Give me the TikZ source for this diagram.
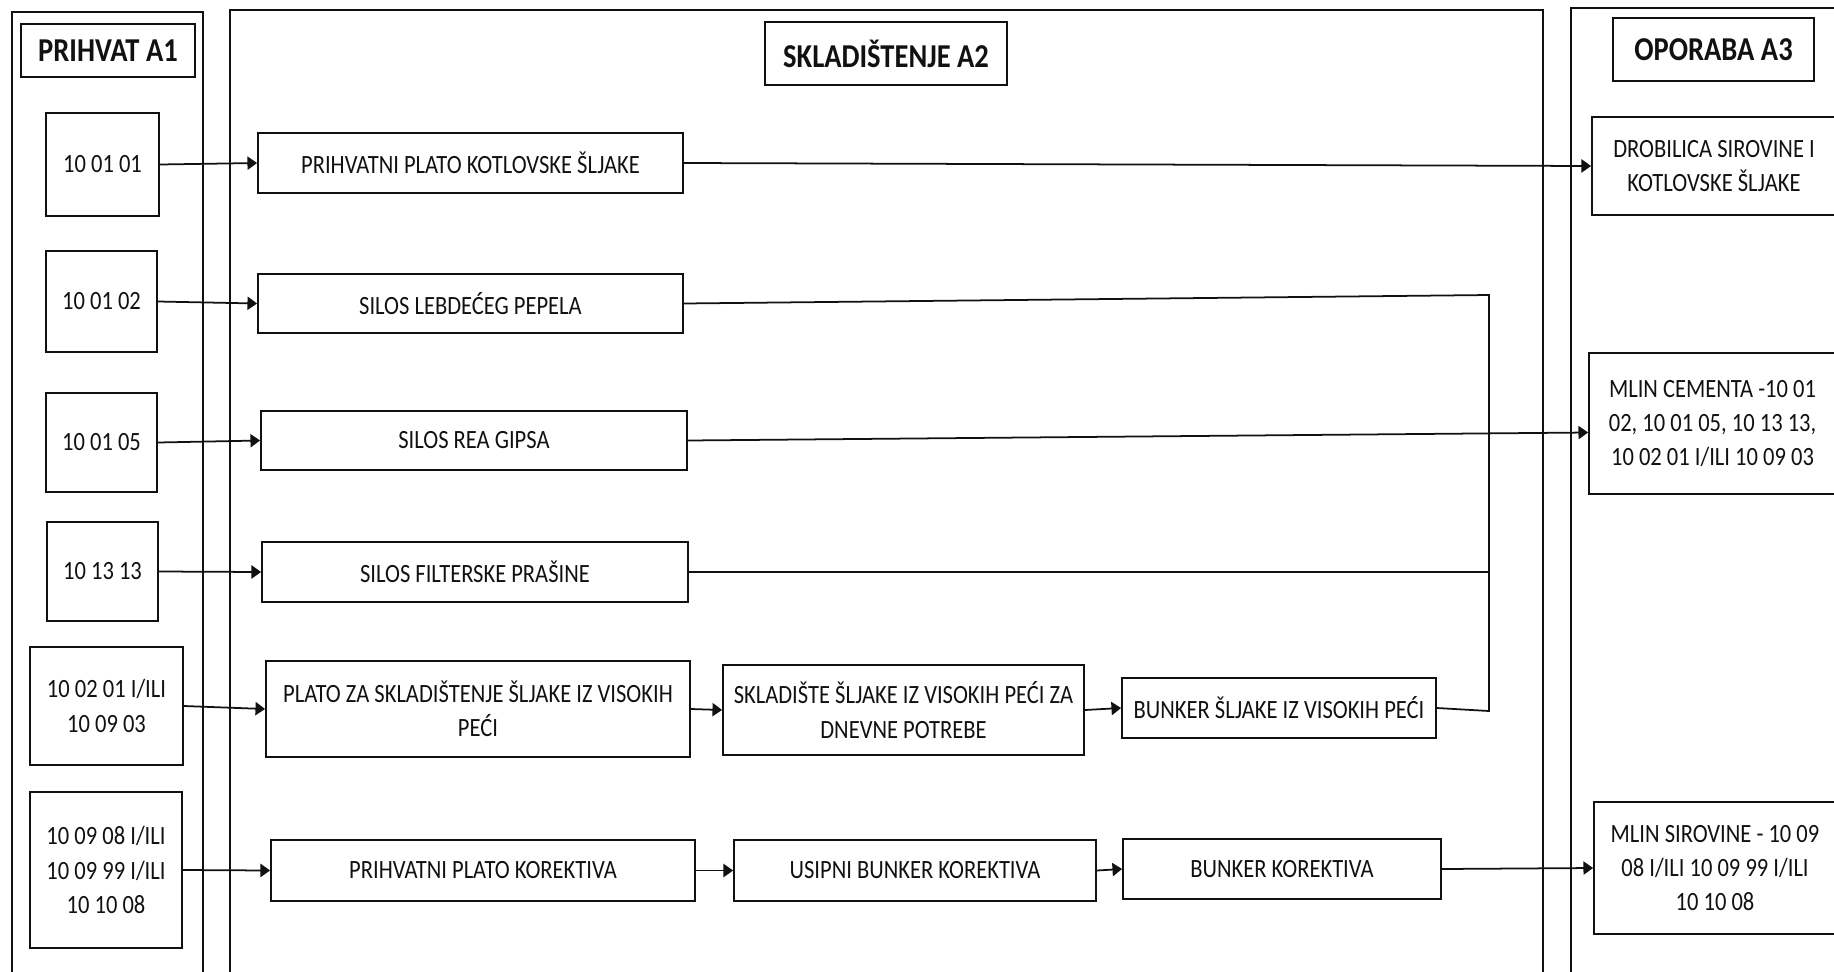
\documentclass[tikz,border=0pt]{standalone}
\usepackage{fontspec}
\setmainfont{Carlito}[FakeStretch=0.855]
\usepackage{xcolor}
\usetikzlibrary{arrows.meta}
\definecolor{ink}{HTML}{111111}

\begin{document}
\begin{tikzpicture}[
  x=0.2mm, y=-0.2mm,
  every node/.style={font=\fontsize{15}{19.5}\selectfont, text=ink},
  frame/.style={draw=ink, line width=1pt},
  head/.style={
    rectangle, draw=ink, line width=1pt,
    font=\fontsize{19}{23}\selectfont\bfseries, inner sep=2pt
  },
  codebox/.style={
    rectangle, draw=ink, line width=1pt, align=center, inner sep=2pt
  },
  stagebox/.style={
    rectangle, draw=ink, line width=1pt, align=center, inner sep=2pt,
    minimum height=1.2cm
  },
  arr/.style={-{Triangle[length=5.5pt,width=7.5pt]}, line width=1pt, draw=ink},
  line/.style={line width=1pt, draw=ink}
]
\useasboundingbox (0,0) rectangle (1834,971);
\clip (0,0) rectangle (1834,971);

% --- COLUMN FRAMES ---
\draw[frame] (12,990) |- (203,12) -- (203,990);
\draw[frame] (230,990) |- (1543,10) -- (1543,990);
\draw[frame] (1571,990) |- (1850,8);

% --- HEADERS ---
\node[head, minimum width=3.48cm, minimum height=1.06cm] (hdrA) at (108,50.5) {PRIHVAT A1};
\node[head, minimum width=4.84cm, minimum height=1.26cm] (hdrB) at (886,53.5) {SKLADIŠTENJE A2};
\node[head, minimum width=4.02cm, minimum height=1.26cm] (hdrC) at (1713.5,49.5) {OPORABA A3};

% --- PRIHVAT A1: waste codes ---
\node[codebox, minimum width=2.26cm, minimum height=2.06cm] (kod1) at (102.5,164.5) {10 01 01};
\node[codebox, minimum width=2.22cm, minimum height=2.02cm] (kod2) at (101.5,301.5) {10 01 02};
\node[codebox, minimum width=2.22cm, minimum height=1.98cm] (kod3) at (101.5,442.5) {10 01 05};
\node[codebox, minimum width=2.22cm, minimum height=1.98cm] (kod4) at (102.5,571.5) {10 13 13};
\node[codebox, minimum width=3.06cm, minimum height=2.36cm] (kod5) at (106.5,706) {10 02 01 I/ILI\\10 09 03};
\node[codebox, minimum width=3.04cm, minimum height=3.12cm] (kod6) at (106,870) {10 09 08 I/ILI\\10 09 99 I/ILI\\10 10 08};

% --- SKLADIŠTENJE A2 ---
\node[stagebox, minimum width=8.5cm] (platoKS) at (470.5,163) {PRIHVATNI PLATO KOTLOVSKE ŠLJAKE};
\node[stagebox, minimum width=8.5cm, minimum height=1.18cm] (silosLP) at (470.5,303.5) {SILOS LEBDEĆEG PEPELA};
\node[stagebox, minimum width=8.52cm, minimum height=1.18cm] (silosRG) at (474,440.5) {SILOS REA GIPSA};
\node[stagebox, minimum width=8.52cm] (silosFP) at (475,572) {SILOS FILTERSKE PRAŠINE};

\node[stagebox, minimum width=8.48cm, minimum height=1.92cm] (platoVP) at (478,709) {PLATO ZA SKLADIŠTENJE ŠLJAKE IZ VISOKIH\\PEĆI};
\node[stagebox, minimum width=7.22cm, minimum height=1.8cm] (skladVP) at (903.5,710) {SKLADIŠTE ŠLJAKE IZ VISOKIH PEĆI ZA\\DNEVNE POTREBE};
\node[stagebox, minimum width=6.28cm] (bunkerVP) at (1279,708) {BUNKER ŠLJAKE IZ VISOKIH PEĆI};

\node[stagebox, minimum width=8.48cm, minimum height=1.22cm] (platoKor) at (483,870.5) {PRIHVATNI PLATO KOREKTIVA};
\node[stagebox, minimum width=7.24cm, minimum height=1.22cm] (usipKor) at (915,870.5) {USIPNI BUNKER KOREKTIVA};
\node[stagebox, minimum width=6.36cm] (bunkerKor) at (1282,869) {BUNKER KOREKTIVA};

% --- OPORABA A3 ---
\node[codebox, minimum width=4.88cm, minimum height=1.96cm] (drobilica) at (1714,166) {DROBILICA SIROVINE I\\KOTLOVSKE ŠLJAKE};
\node[codebox, minimum width=4.94cm, minimum height=2.82cm] (mlinCem) at (1712.5,423.5) {MLIN CEMENTA -10 01\\02, 10 01 05, 10 13 13,\\10 02 01 I/ILI 10 09 03};
\node[codebox, minimum width=4.84cm, minimum height=2.64cm] (mlinSir) at (1715,868) {MLIN SIROVINE - 10 09\\08 I/ILI 10 09 99 I/ILI\\10 10 08};

% collector line for ash, gypsum, dust and slag
\coordinate (sabirGore) at (1489,295);
\coordinate (sabirDolje) at (1489,711);

% --- CONNECTORS ---
\draw[arr] (kod1.east) -- (platoKS.west);
\draw[arr] (kod2.east) -- (silosLP.west);
\draw[arr] (kod3.east) -- (silosRG.west);
\draw[arr] (kod4.east) -- (silosFP.west);
\draw[arr] (kod5.east) -- (platoVP.west);
\draw[arr] (kod6.east) -- (platoKor.west);

\draw[arr] (platoVP.east) -- (skladVP.west);
\draw[arr] (skladVP.east) -- (bunkerVP.west);
\draw[arr] (platoKor.east) -- (usipKor.west);
\draw[arr] (usipKor.east) -- (bunkerKor.west);

\draw[arr] (platoKS.east) -- (drobilica.west);
\draw[arr] (silosRG.east) -- ([yshift=-0.18cm]mlinCem.west);
\draw[arr] (bunkerKor.east) -- (mlinSir.west);

\draw[line] (silosLP.east) -- (sabirGore) -- (sabirDolje) -- (bunkerVP.east);
\draw[line] (silosFP.east) -- (silosFP.east -| sabirGore);

\end{tikzpicture}
\end{document}
